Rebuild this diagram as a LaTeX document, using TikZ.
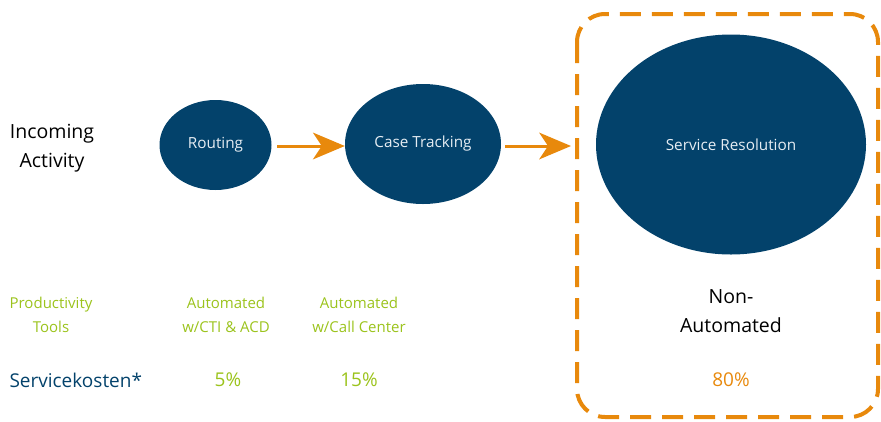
\documentclass[tikz,border=0pt]{standalone}
\usepackage{fontspec}
\setmainfont{Open Sans}
\usetikzlibrary{arrows.meta,shapes.geometric}
\definecolor{navy}{HTML}{03426B}
\definecolor{orng}{HTML}{E8890C}
\definecolor{grn}{HTML}{9BC31C}
\definecolor{ltxt}{HTML}{E6EDF3}
\begin{document}
\begin{tikzpicture}[x=1pt,y=-1pt,
  blob/.style={ellipse,fill=navy,draw=none,text=ltxt,font=\fontsize{15.3}{17}\selectfont,inner sep=0pt},
  flow/.style={draw=orng,line width=3pt,-{Stealth[length=32pt,width=27pt,inset=9pt,line width=0pt]}},
  lbl/.style={align=center,font=\fontsize{19.5}{29}\selectfont,text=black},
  glbl/.style={align=center,font=\fontsize{15}{24}\selectfont,text=grn},
  pct/.style={font=\fontsize{19}{22}\selectfont}]
\useasboundingbox (0,0) rectangle (881,421);
\draw[orng,line width=4pt,dash pattern=on 21pt off 11pt,rounded corners=28pt] (577,14) rectangle (878,417);
\node[blob,minimum width=112pt,minimum height=90pt] (rt) at (215.5,145) {Routing};
\node[blob,minimum width=156pt,minimum height=120pt] (ct) at (423,144) {Case Tracking};
\node[blob,minimum width=270pt,minimum height=220pt] (sr) at (731,144.5) {Service Resolution};
\coordinate (box) at (571,146);
\draw[flow] (277,146) -- (ct.west |- 0,146);
\draw[flow] (505,146) -- (box);
\node[lbl] (inc) at (52,148.5) {Incoming\\Activity};
\node[lbl] (na) at (731,311) {Non-\\Automated};
\node[glbl] (pt) at (51,315) {Productivity\\Tools};
\node[glbl] (a1) at (226,315) {Automated\\w/CTI \& ACD};
\node[glbl] (a2) at (359,315) {Automated\\w/Call Center};
\node[pct,text=navy,anchor=west] (sk) at (6,380) {Servicekosten*};
\node[pct,text=grn] (p5) at (228,380) {5\%};
\node[pct,text=grn] (p15) at (359,380) {15\%};
\node[pct,text=orng] (p80) at (731,380) {80\%};
\end{tikzpicture}
\end{document}
